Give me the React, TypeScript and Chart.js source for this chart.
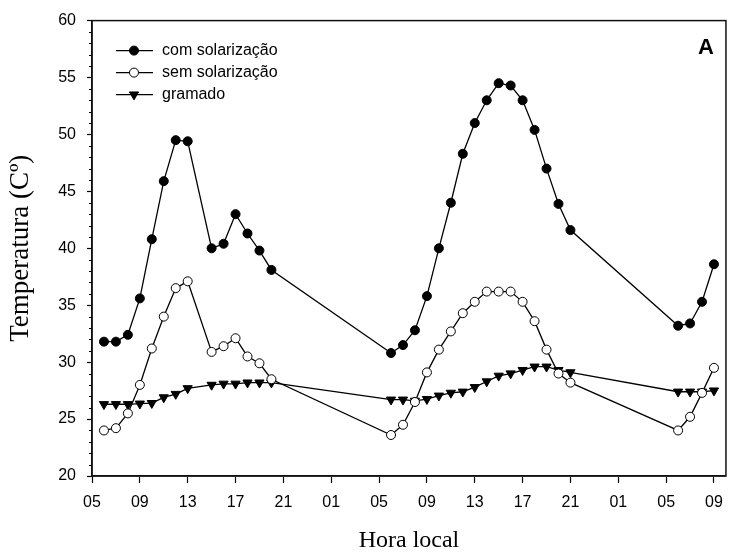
import { useEffect, useRef } from 'react';
import { Chart, registerables } from 'chart.js';

Chart.register(...registerables);

// hours counted from 00:00 of the first day
const hours = [
  6, 7, 8, 9, 10, 11, 12, 13, 15, 16, 17, 18, 19, 20,
  30, 31, 32, 33, 34, 35, 36, 37, 38, 39, 40, 41, 42, 43, 44, 45,
  54, 55, 56, 57,
];

const comSolarizacao = [
  31.8, 31.8, 32.4, 35.6, 40.8, 45.9, 49.5, 49.4, 40.0, 40.4, 43.0, 41.3, 39.8, 38.1,
  30.8, 31.5, 32.8, 35.8, 40.0, 44.0, 48.3, 51.0, 53.0, 54.5, 54.3, 53.0, 50.4, 47.0, 43.9, 41.6,
  33.2, 33.4, 35.3, 38.6,
];

const semSolarizacao = [
  24.0, 24.2, 25.5, 28.0, 31.2, 34.0, 36.5, 37.1, 30.9, 31.4, 32.1, 30.5, 29.9, 28.5,
  23.6, 24.5, 26.5, 29.1, 31.1, 32.7, 34.3, 35.3, 36.2, 36.2, 36.2, 35.3, 33.6, 31.1, 29.0, 28.2,
  24.0, 25.2, 27.3, 29.5,
];

const gramado = [
  26.3, 26.3, 26.3, 26.35, 26.4, 26.9, 27.2, 27.7, 28.0, 28.1, 28.1, 28.2, 28.2, 28.2,
  26.7, 26.7, 26.6, 26.75, 27.05, 27.3, 27.4, 27.8, 28.3, 28.8, 29.0, 29.3, 29.6, 29.6, 29.3, 29.1,
  27.4, 27.4, 27.4, 27.5,
];

const seriesNames = ['com solarização', 'sem solarização', 'gramado'];
const xTickHours = [5, 9, 13, 17, 21, 25, 29, 33, 37, 41, 45, 49, 53, 57];
const xTickLabels = ['05', '09', '13', '17', '21', '01', '05', '09', '13', '17', '21', '01', '05', '09'];
const xMin = 5;
const xMax = 58;
const yMin = 20;
const yMax = 60;
const yMajorStep = 5;
const yMinorStep = 1;
const xTitle = 'Hora local';
const yTitle = 'Temperatura (Cº)';
const panelLabel = 'A';

const SANS = '"Liberation Sans", Arial, sans-serif';
const SERIF = '"Liberation Serif", "Times New Roman", serif';

function drawMarker(ctx: CanvasRenderingContext2D, style: string, fill: string, x: number, y: number) {
  ctx.save();
  ctx.lineWidth = 1;
  ctx.strokeStyle = '#000';
  ctx.fillStyle = fill;
  ctx.beginPath();
  if (style === 'triangle') {
    const r = 5.3;
    ctx.moveTo(x, y + r);
    ctx.lineTo(x - r * 0.866, y - r / 2);
    ctx.lineTo(x + r * 0.866, y - r / 2);
    ctx.closePath();
  } else {
    ctx.arc(x, y, 4.5, 0, Math.PI * 2);
  }
  ctx.fill();
  ctx.stroke();
  ctx.restore();
}

const framePlugin = {
  id: 'frameAndLegend',
  afterDraw(chart: any) {
    const { ctx, chartArea } = chart;
    const { left, top, right, bottom } = chartArea;
    ctx.save();
    // frame
    ctx.strokeStyle = '#111';
    ctx.lineWidth = 1.5;
    ctx.strokeRect(left, top, right - left, bottom - top);
    // minor y ticks
    const ys = chart.scales.y;
    ctx.lineWidth = 1;
    ctx.strokeStyle = '#000';
    for (let v = yMin; v <= yMax; v += yMinorStep) {
      if (v % yMajorStep === 0) continue;
      const py = Math.round(ys.getPixelForValue(v)) + 0.5;
      ctx.beginPath();
      ctx.moveTo(left - 3, py);
      ctx.lineTo(left, py);
      ctx.stroke();
    }
    // legend
    const styles = ['circle', 'circle', 'triangle'];
    const fills = ['#000', '#fff', '#000'];
    const lx0 = left + 24;
    const lx1 = left + 61;
    const lmx = left + 42;
    const ly0 = top + 30;
    ctx.font = '16px ' + SANS;
    ctx.textBaseline = 'middle';
    ctx.textAlign = 'left';
    seriesNames.forEach((name, i) => {
      const y = ly0 + i * 22;
      ctx.strokeStyle = '#000';
      ctx.lineWidth = 1.3;
      ctx.beginPath();
      ctx.moveTo(lx0, y);
      ctx.lineTo(lx1, y);
      ctx.stroke();
      drawMarker(ctx, styles[i], fills[i], lmx, y);
      ctx.fillStyle = '#000';
      ctx.fillText(name, left + 70, y);
    });
    // panel label
    ctx.font = 'bold 22px ' + SANS;
    ctx.textAlign = 'right';
    ctx.fillStyle = '#000';
    ctx.fillText(panelLabel, right - 12, top + 27);
    ctx.restore();
  },
};

export default function App() {
  const ref = useRef<HTMLCanvasElement | null>(null);

  useEffect(() => {
    if (!ref.current) return;
    const mk = (vals: number[]) => hours.map((h, i) => ({ x: h, y: vals[i] }));
    const chart = new Chart(ref.current, {
      type: 'line',
      data: {
        datasets: [
          {
            label: seriesNames[0],
            data: mk(comSolarizacao),
            borderColor: '#000',
            borderWidth: 1.3,
            pointStyle: 'circle',
            pointRadius: 4.5,
            pointBorderWidth: 1,
            pointBackgroundColor: '#000',
            pointBorderColor: '#000',
            tension: 0,
          },
          {
            label: seriesNames[1],
            data: mk(semSolarizacao),
            borderColor: '#000',
            borderWidth: 1.3,
            pointStyle: 'circle',
            pointRadius: 4.5,
            pointBorderWidth: 1,
            pointBackgroundColor: '#fff',
            pointBorderColor: '#000',
            tension: 0,
          },
          {
            label: seriesNames[2],
            data: mk(gramado),
            borderColor: '#000',
            borderWidth: 1.3,
            pointStyle: 'triangle',
            pointRotation: 180,
            pointRadius: 5.3,
            pointBorderWidth: 1,
            pointBackgroundColor: '#000',
            pointBorderColor: '#000',
            tension: 0,
          },
        ],
      },
      options: {
        responsive: false,
        animation: false,
        devicePixelRatio: 1,
        events: [],
        layout: { padding: { left: 0, top: 18, right: 3, bottom: 0 } },
        plugins: { legend: { display: false }, tooltip: { enabled: false } },
        scales: {
          x: {
            type: 'linear',
            min: xMin,
            max: xMax,
            afterBuildTicks: (s: any) => {
              s.ticks = xTickHours.map((v) => ({ value: v }));
            },
            afterFit: (s: any) => {
              s.height = 82;
            },
            ticks: {
              autoSkip: false,
              maxRotation: 0,
              color: '#000',
              padding: 10,
              font: { family: SANS, size: 16 },
              callback: (_v: any, i: number) => xTickLabels[i],
            },
            grid: {
              display: true,
              drawOnChartArea: false,
              drawTicks: true,
              tickLength: 7,
              tickColor: '#000',
              tickWidth: 1.2,
            },
            border: { display: true, color: '#111', width: 1.5 },
            title: {
              display: true,
              text: xTitle,
              color: '#000',
              font: { family: SERIF, size: 24 },
              padding: { top: 0, bottom: 3 },
            },
          },
          y: {
            type: 'linear',
            min: yMin,
            max: yMax,
            afterFit: (s: any) => {
              s.width = 92;
            },
            ticks: {
              stepSize: yMajorStep,
              color: '#000',
              padding: 11,
              font: { family: SANS, size: 16 },
            },
            grid: {
              display: true,
              drawOnChartArea: false,
              drawTicks: true,
              tickLength: 5,
              tickColor: '#000',
              tickWidth: 1.2,
            },
            border: { display: true, color: '#111', width: 1.5 },
            title: {
              display: true,
              text: yTitle,
              color: '#000',
              font: { family: SERIF, size: 27 },
              padding: { top: 5, bottom: 0 },
            },
          },
        },
      },
      plugins: [framePlugin],
    });
    return () => chart.destroy();
  }, []);

  return (
    <div style={{ position: 'absolute', left: 0, top: 0, width: 733, height: 558, background: '#fff' }}>
      <canvas ref={ref} width={733} height={558} />
    </div>
  );
}
